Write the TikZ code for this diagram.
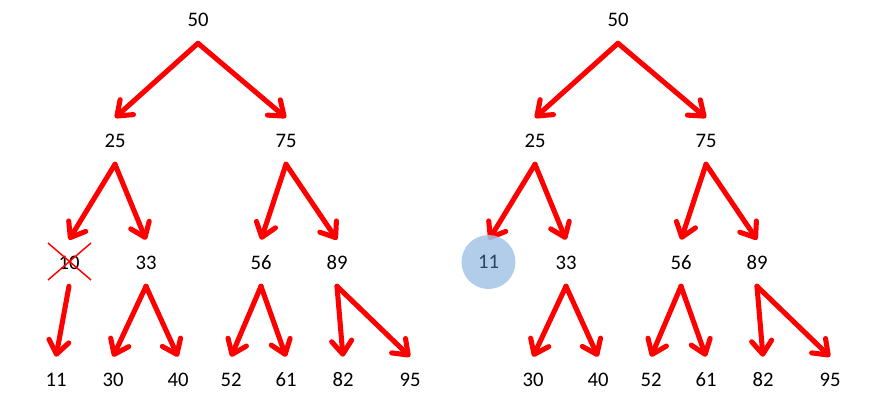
\documentclass[tikz,border=0pt]{standalone}
\usepackage{fontspec}
\setmainfont{Carlito}
\usetikzlibrary{arrows.meta}
\definecolor{arrred}{HTML}{FF0000}
\definecolor{hlblue}{HTML}{A4C4E6}
\definecolor{hltext}{HTML}{2B435E}
\tikzset{
  num/.style={inner sep=0pt, minimum height=46*0.75pt, minimum width=20pt, font=\fontsize{15.5}{18}\selectfont},
  edge/.style={draw=arrred, line width=3.8pt, line cap=round, line join=round,
    -{Straight Barb[length=10pt,width=15pt,line width=3.8pt,round]}},
  cross/.style={draw=arrred, line width=1.1pt},
  hl/.style={circle, fill=hlblue, fill opacity=0.85, draw=none, minimum size=54*0.75pt, inner sep=0pt}
}
\begin{document}
\begin{tikzpicture}[x=0.75pt,y=-0.75pt]
\useasboundingbox (0,0) rectangle (883,406);
% left tree
\node[num] (a50) at (198,20) {50};
\node[num] (a25) at (115,141) {25};
\node[num] (a75) at (286,141) {75};
\node[num] (a10) at (69,263) {10};
\node[num] (a33) at (146,263) {33};
\node[num] (a56) at (261,263) {56};
\node[num] (a89) at (337,263) {89};
\node[num] (a11) at (56,380) {11};
\node[num] (a30) at (113,380) {30};
\node[num] (a40) at (178,380) {40};
\node[num] (a52) at (231,380) {52};
\node[num] (a61) at (286,380) {61};
\node[num] (a82) at (343,380) {82};
\node[num] (a95) at (410,380) {95};
\draw[edge] (a50.south) -- (a25.north);
\draw[edge] (a50.south) -- (a75.north);
\draw[edge] (a25.south) -- (a10.north);
\draw[edge] (a25.south) -- (a33.north);
\draw[edge] (a75.south) -- (a56.north);
\draw[edge] (a75.south) -- (a89.north);
\draw[edge] (a10.south) -- (a11.north);
\draw[edge] (a33.south) -- (a30.north);
\draw[edge] (a33.south) -- (a40.north);
\draw[edge] (a56.south) -- (a52.north);
\draw[edge] (a56.south) -- (a61.north);
\draw[edge] (a89.south) -- (a82.north);
\draw[edge] (a89.south) -- (a95.north);
\coordinate (x1) at (48,243);
\coordinate (x2) at (91,280);
\coordinate (x3) at (91,243);
\coordinate (x4) at (48,280);
\draw[cross] (x1) -- (x2);
\draw[cross] (x3) -- (x4);
% right tree
\node[num] (b50) at (618,20) {50};
\node[num] (b25) at (535,141) {25};
\node[num] (b75) at (706,141) {75};
\node[num] (b11) at (489,263) {};
\node[num] (b33) at (566,263) {33};
\node[num] (b56) at (681,263) {56};
\node[num] (b89) at (757,263) {89};
\node[num] (b30) at (533,380) {30};
\node[num] (b40) at (598,380) {40};
\node[num] (b52) at (651,380) {52};
\node[num] (b61) at (706,380) {61};
\node[num] (b82) at (763,380) {82};
\node[num] (b95) at (830,380) {95};
\draw[edge] (b50.south) -- (b25.north);
\draw[edge] (b50.south) -- (b75.north);
\draw[edge] (b25.south) -- (b11.north);
\draw[edge] (b25.south) -- (b33.north);
\draw[edge] (b75.south) -- (b56.north);
\draw[edge] (b75.south) -- (b89.north);
\draw[edge] (b33.south) -- (b30.north);
\draw[edge] (b33.south) -- (b40.north);
\draw[edge] (b56.south) -- (b52.north);
\draw[edge] (b56.south) -- (b61.north);
\draw[edge] (b89.south) -- (b82.north);
\draw[edge] (b89.south) -- (b95.north);
\node[hl] (hc) at (488.5,262) {};
\node[num, text=hltext] (b11t) at (hc) {11};
\end{tikzpicture}
\end{document}
